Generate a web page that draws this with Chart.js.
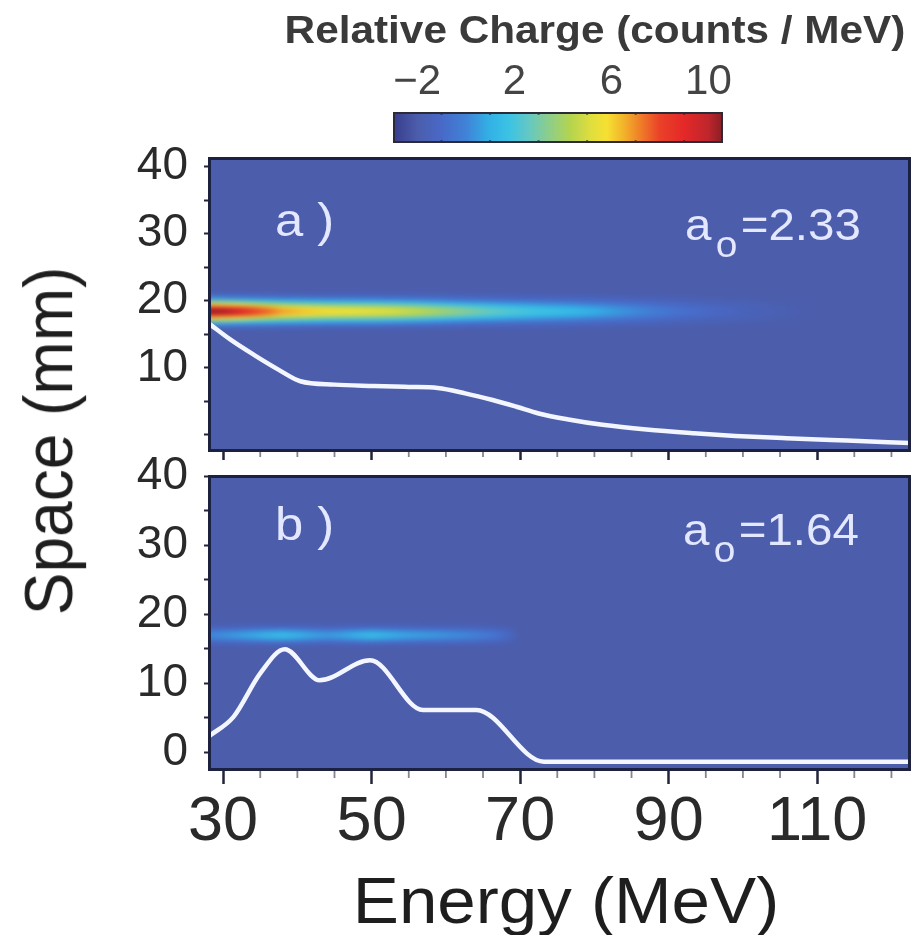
<!DOCTYPE html>
<html>
<head>
<meta charset="utf-8">
<script src="https://cdn.jsdelivr.net/npm/chart.js@4.4.1/dist/chart.umd.min.js"></script>
<style>
  html, body { margin: 0; padding: 0; background: #ffffff; width: 912px; height: 935px; overflow: hidden; }
  body { position: relative; font-family: "Liberation Sans", Arial, sans-serif; }
  canvas { position: absolute; left: 0; }
  .t { position: absolute; white-space: nowrap; line-height: 1; }
  .ann { color: #e3e7ff; transform-origin: 0 0; transform: scaleX(1.08); }
  .ann sub { font-size: 36px; vertical-align: baseline; position: relative; top: 17px; margin: 0 3px 0 4px; }
</style>
</head>
<body>
<canvas id="cbar" width="912" height="150" style="top:0px"></canvas>
<canvas id="panelA" width="912" height="320" style="top:140px"></canvas>
<canvas id="panelB" width="912" height="495" style="top:440px"></canvas>

<div class="t" style="left:595px; top:10px; font-size:39px; font-weight:bold; color:#3a3a3a; transform:translateX(-50%) scaleX(1.085);">Relative Charge (counts / MeV)</div>
<div class="t" style="left:48px; top:441px; font-size:64px; color:#1e1e1e; transform:translate(-50%,-50%) rotate(-90deg) scale(1,1.08);">Space (mm)</div>
<div class="t" style="left:566px; top:869px; font-size:64px; color:#1e1e1e; transform:translateX(-50%) scaleX(1.08);">Energy (MeV)</div>

<div class="t ann" style="left:275px; top:196px; font-size:47px;">a )</div>
<div class="t ann" style="left:685px; top:203px; font-size:44px;">a<sub>o</sub>=2.33</div>
<div class="t ann" style="left:275px; top:500px; font-size:47px;">b )</div>
<div class="t ann" style="left:683px; top:508px; font-size:44px;">a<sub>o</sub>=1.64</div>

<script>
const FONT = '"Liberation Sans", Arial, sans-serif';

// Relative charge colour scale (counts / MeV)
const cmapValues = [-3, -2, -1, 0, 1, 1.8, 2.6, 3.4, 4.3, 5.2, 5.8, 6.5, 7.2, 8, 9, 10, 10.6];
const cmapColors = ['#383c8c', '#4b5dab', '#4869c8', '#4082d7', '#32b2e6', '#3cc3e4', '#64c8c3', '#8ccd8c',
                    '#b4d450', '#e1de3c', '#f6e032', '#f2b42a', '#f07d28', '#ea4128', '#e42828', '#be262d', '#871e23'];
const colorbarTicks = [-2, 2, 6, 10];
const colorbarMinor = [-1, 1, 3, 5, 7, 9];
const bgCharge = -2;

// Axis ticks
const energyMajor = [30, 50, 70, 90, 110];
const energyMinor = [35, 40, 45, 55, 60, 65, 75, 80, 85, 95, 100, 105, 115, 120];
const spaceTicks = [0, 5, 10, 15, 20, 25, 30, 35, 40];
const spaceLabelsA = [10, 20, 30, 40];
const spaceLabelsB = [0, 10, 20, 30, 40];

// Panel a (a0 = 2.33): white profile curve
const curveA_E = [28.1, 31, 34.2, 37.5, 40.4, 45, 50.3, 55, 58.9, 62.6, 66.3, 69.5, 72.5, 76.5, 81.1, 87, 93.4, 99, 105.8, 114, 122.5];
const curveA_S = [16.6, 14.2, 11.9, 9.7, 8.0, 7.5, 7.3, 7.15, 7.0, 6.2, 5.2, 4.2, 3.2, 2.3, 1.5, 0.8, 0.25, -0.15, -0.5, -0.85, -1.2];
// Panel a: charge along the beam line
const bandA_E = [28, 30, 32, 34, 36, 38, 41, 44, 47, 50, 53, 56, 59, 62, 65, 68, 71, 74, 77, 80, 84, 88, 92, 96, 100, 105, 110];
const bandA_Q = [10.7, 10.4, 9.6, 8.6, 7.8, 7.0, 6.4, 5.9, 5.7, 5.5, 5.2, 4.7, 4.1, 3.5, 2.9, 2.4, 2.0, 1.7, 1.4, 1.0, 0.4, -0.2, -0.7, -1.1, -1.4, -1.75, -2];
const bandA_center = 18.5;
const profileA_dy = [-2.5, -2, -1.5, -1, -0.5, 0, 0.5, 1, 1.5, 2, 2.5];
const profileA_w  = [0.05, 0.17, 0.38, 0.65, 0.9, 1, 0.9, 0.65, 0.38, 0.17, 0.05];

// Panel b (a0 = 1.64)
const curveB_E = [28.1, 31.4, 35, 38.3, 43, 49.8, 56.9, 64.1, 73.2, 80, 100, 122.5];
const curveB_S = [2.3, 5.1, 11.4, 14.9, 10.4, 13.3, 6.1, 6.1, -1.4, -1.4, -1.4, -1.4];
const bandB_E = [28, 30, 33, 36, 38, 40, 42, 44, 46, 48, 50, 52, 55, 58, 61, 64, 66.5, 68.5, 70];
const bandB_Q = [0.1, 0.4, 0.8, 1.3, 1.5, 1.2, 0.8, 0.6, 0.8, 1.2, 1.5, 1.2, 0.8, 0.6, 0.3, 0.0, -0.5, -1.2, -2];
const bandB_center = 17.0;
const profileB_dy = [-1.5, -1, -0.5, 0, 0.5, 1, 1.5];
const profileB_w  = [0.08, 0.35, 0.8, 1, 0.8, 0.35, 0.08];

const cmapRgb = cmapColors.map(h => {
  const n = parseInt(h.slice(1), 16);
  return [(n >> 16) & 255, (n >> 8) & 255, n & 255];
});
function chargeColor(v) {
  const last = cmapValues.length - 1;
  let c;
  if (v <= cmapValues[0]) c = cmapRgb[0];
  else if (v >= cmapValues[last]) c = cmapRgb[last];
  else {
    for (let i = 1; i <= last; i++) {
      if (v <= cmapValues[i]) {
        const t = (v - cmapValues[i - 1]) / (cmapValues[i] - cmapValues[i - 1]);
        const a = cmapRgb[i - 1], b = cmapRgb[i];
        c = a.map((ch, k) => ch + (b[k] - ch) * t);
        break;
      }
    }
  }
  return 'rgb(' + c.map(Math.round).join(',') + ')';
}

// Paints the plot area and the charge band on an opaque layer, then softens it into the chart
function chargeMapPlugin(E, Q, center, dy, w) {
  return {
    id: 'chargeMap',
    beforeDatasetsDraw(chart) {
      const { ctx, chartArea: a, scales: { x, y } } = chart;
      const m = 12;
      const W = Math.ceil(a.right - a.left) + 2 * m;
      const H = Math.ceil(a.bottom - a.top) + 2 * m;
      const layer = document.createElement('canvas');
      layer.width = W;
      layer.height = H;
      const lc = layer.getContext('2d');
      lc.fillStyle = chargeColor(bgCharge);
      lc.fillRect(0, 0, W, H);
      const ox = a.left - m, oy = a.top - m;
      const x0 = x.getPixelForValue(E[0]);
      const x1 = x.getPixelForValue(E[E.length - 1]);
      dy.forEach((d, j) => {
        const g = lc.createLinearGradient(x0 - ox, 0, x1 - ox, 0);
        E.forEach((e, i) => {
          const v = bgCharge + (Q[i] - bgCharge) * w[j];
          g.addColorStop((x.getPixelForValue(e) - x0) / (x1 - x0), chargeColor(v));
        });
        const yt = y.getPixelForValue(center + d + 0.25) - oy;
        const yb = y.getPixelForValue(center + d - 0.25) - oy;
        lc.fillStyle = g;
        lc.fillRect(0, yt - 0.5, W, yb - yt + 1);
      });
      ctx.save();
      ctx.beginPath();
      ctx.rect(a.left, a.top, a.right - a.left, a.bottom - a.top);
      ctx.clip();
      ctx.filter = 'blur(2px)';
      ctx.drawImage(layer, ox, oy);
      ctx.restore();
    }
  };
}

// Dark frame round the plot area and the short minor ticks under it
function framePlugin(minorLen) {
  return {
    id: 'frame',
    afterDatasetsDraw(chart) {
      const { ctx, chartArea: a, scales: { x } } = chart;
      ctx.save();
      ctx.strokeStyle = '#1d2140';
      ctx.lineWidth = 3;
      ctx.strokeRect(a.left + 0.5, a.top + 0.5, a.right - a.left - 1, a.bottom - a.top - 1);
      ctx.strokeStyle = '#85858f';
      ctx.lineWidth = 1.8;
      energyMinor.forEach(v => {
        const px = x.getPixelForValue(v);
        if (px > a.left && px < a.right) {
          ctx.beginPath();
          ctx.moveTo(px, a.bottom + 1);
          ctx.lineTo(px, a.bottom + minorLen);
          ctx.stroke();
        }
      });
      ctx.restore();
    }
  };
}

function panel(canvasId, opts) {
  return new Chart(document.getElementById(canvasId), {
    type: 'line',
    data: {
      datasets: [{
        data: opts.E.map((e, i) => ({ x: e, y: opts.S[i] })),
        borderColor: '#f3f5ff',
        borderWidth: 4.5,
        pointRadius: 0,
        cubicInterpolationMode: 'monotone',
        fill: false
      }]
    },
    options: {
      responsive: false,
      animation: false,
      devicePixelRatio: 1,
      events: [],
      layout: { autoPadding: false, padding: { top: opts.padTop, right: 2, left: 0, bottom: 0 } },
      plugins: { legend: { display: false }, tooltip: { enabled: false } },
      scales: {
        x: {
          type: 'linear',
          min: 28.1,
          max: 122.5,
          afterBuildTicks: s => { s.ticks = energyMajor.map(v => ({ value: v })); },
          afterFit: s => { s.height = opts.xHeight; s.paddingLeft = 0; s.paddingRight = 0; },
          ticks: {
            display: opts.showX,
            autoSkip: false,
            maxRotation: 0,
            minRotation: 0,
            padding: 1,
            color: '#2a2a2a',
            font: { family: FONT, size: 63 },
            callback: v => String(v)
          },
          grid: { drawOnChartArea: false, drawTicks: true, tickLength: opts.majorLen, tickColor: '#22253a', tickWidth: 2.5 },
          border: { display: false }
        },
        y: {
          type: 'linear',
          min: opts.yMin,
          max: opts.yMax,
          afterBuildTicks: s => { s.ticks = spaceTicks.map(v => ({ value: v })); },
          afterFit: s => { s.width = 209; s.paddingTop = 0; s.paddingBottom = 0; },
          ticks: {
            autoSkip: false,
            padding: 16,
            color: '#2a2a2a',
            font: { family: FONT, size: 46 },
            callback: v => (opts.labels.includes(v) ? String(v) : '')
          },
          grid: { drawOnChartArea: false, drawTicks: true, tickLength: 5, tickColor: '#22253a', tickWidth: 2 },
          border: { display: false }
        }
      }
    },
    plugins: [chargeMapPlugin(opts.bandE, opts.bandQ, opts.center, opts.dy, opts.w), framePlugin(opts.minorLen)]
  });
}

panel('panelA', {
  E: curveA_E, S: curveA_S,
  bandE: bandA_E, bandQ: bandA_Q, center: bandA_center, dy: profileA_dy, w: profileA_w,
  labels: spaceLabelsA, yMin: -2.4, yMax: 41.3,
  padTop: 18, xHeight: 9, showX: false, majorLen: 9, minorLen: 6
});

panel('panelB', {
  E: curveB_E, S: curveB_S,
  bandE: bandB_E, bandQ: bandB_Q, center: bandB_center, dy: profileB_dy, w: profileB_w,
  labels: spaceLabelsB, yMin: -2.6, yMax: 40.0,
  padTop: 36, xHeight: 165, showX: true, majorLen: 14, minorLen: 8
});

// Colour bar
new Chart(document.getElementById('cbar'), {
  type: 'scatter',
  data: { datasets: [{ data: [] }] },
  options: {
    responsive: false,
    animation: false,
    devicePixelRatio: 1,
    events: [],
    layout: { autoPadding: false, padding: { left: 393, right: 189, top: 0, bottom: 7 } },
    plugins: { legend: { display: false }, tooltip: { enabled: false } },
    scales: {
      x: {
        type: 'linear',
        position: 'top',
        min: -3,
        max: 10.6,
        afterBuildTicks: s => { s.ticks = colorbarTicks.map(v => ({ value: v })); },
        afterFit: s => { s.height = 112; s.paddingLeft = 0; s.paddingRight = 0; },
        ticks: {
          autoSkip: false,
          maxRotation: 0,
          padding: 4,
          color: '#444444',
          font: { family: FONT, size: 42 },
          callback: v => (v < 0 ? '\u2212' + Math.abs(v) : String(v))
        },
        grid: { display: false, drawTicks: false },
        border: { display: false }
      },
      y: { type: 'linear', display: false, min: 0, max: 1 }
    }
  },
  plugins: [{
    id: 'colorbar',
    beforeDatasetsDraw(chart) {
      const { ctx, chartArea: a, scales: { x } } = chart;
      const g = ctx.createLinearGradient(a.left, 0, a.right, 0);
      cmapValues.forEach((v, i) => {
        const f = (x.getPixelForValue(v) - a.left) / (a.right - a.left);
        g.addColorStop(Math.min(1, Math.max(0, f)), cmapColors[i]);
      });
      ctx.save();
      ctx.fillStyle = g;
      ctx.fillRect(a.left, a.top, a.right - a.left, a.bottom - a.top);
      ctx.strokeStyle = 'rgba(25,25,40,0.55)';
      ctx.lineWidth = 2;
      colorbarMinor.forEach(v => {
        const px = x.getPixelForValue(v);
        ctx.beginPath(); ctx.moveTo(px, a.top); ctx.lineTo(px, a.top + 3); ctx.stroke();
        ctx.beginPath(); ctx.moveTo(px, a.bottom - 3); ctx.lineTo(px, a.bottom); ctx.stroke();
      });
      ctx.strokeStyle = '#2a2a38';
      ctx.lineWidth = 2;
      ctx.strokeRect(a.left + 1, a.top + 1, a.right - a.left - 2, a.bottom - a.top - 2);
      ctx.restore();
    }
  }]
});
</script>
</body>
</html>
